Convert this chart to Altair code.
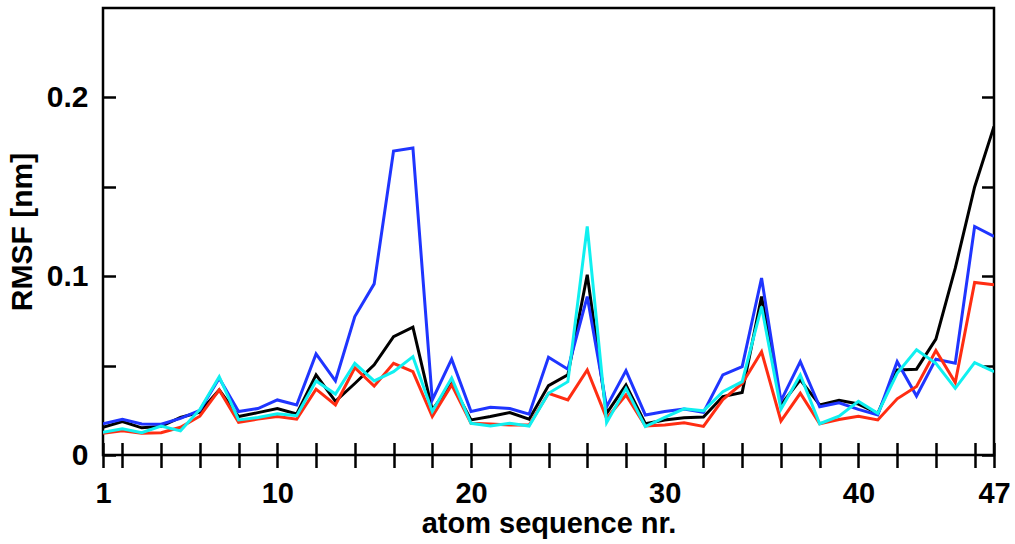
import altair as alt
import pandas as pd

atoms = list(range(1, 48))

black = [0.0155, 0.0187, 0.0152, 0.0160, 0.0210, 0.0240, 0.0364, 0.0215, 0.0237, 0.0260,
         0.0230, 0.0448, 0.0300, 0.0400, 0.0504, 0.0662, 0.0715, 0.0252, 0.0400, 0.0196,
         0.0215, 0.0237, 0.0200, 0.0388, 0.0448, 0.1008, 0.0233, 0.0392, 0.0175, 0.0196,
         0.0208, 0.0213, 0.0327, 0.0350, 0.0886, 0.0280, 0.0420, 0.0280, 0.0306, 0.0285,
         0.0233, 0.0476, 0.0480, 0.0648, 0.1045, 0.1499, 0.1838]
blue = [0.0175, 0.0200, 0.0173, 0.0172, 0.0205, 0.0250, 0.0429, 0.0243, 0.0260, 0.0308,
        0.0280, 0.0565, 0.0415, 0.0774, 0.0957, 0.1700, 0.1717, 0.0308, 0.0536, 0.0243,
        0.0267, 0.0260, 0.0228, 0.0547, 0.0480, 0.0886, 0.0270, 0.0472, 0.0224, 0.0243,
        0.0257, 0.0238, 0.0448, 0.0494, 0.0990, 0.0303, 0.0522, 0.0270, 0.0292, 0.0255,
        0.0224, 0.0522, 0.0330, 0.0536, 0.0513, 0.1278, 0.1222]
red = [0.0122, 0.0136, 0.0121, 0.0125, 0.0155, 0.0217, 0.0364, 0.0183, 0.0201, 0.0215,
       0.0200, 0.0368, 0.0280, 0.0488, 0.0385, 0.0513, 0.0466, 0.0215, 0.0392, 0.0177,
       0.0174, 0.0168, 0.0168, 0.0345, 0.0308, 0.0476, 0.0205, 0.0336, 0.0162, 0.0168,
       0.0180, 0.0160, 0.0310, 0.0400, 0.0578, 0.0190, 0.0345, 0.0175, 0.0198, 0.0216,
       0.0196, 0.0314, 0.0383, 0.0584, 0.0405, 0.0965, 0.0952]
cyan = [0.0127, 0.0146, 0.0125, 0.0162, 0.0135, 0.0255, 0.0438, 0.0196, 0.0210, 0.0230,
        0.0220, 0.0414, 0.0341, 0.0513, 0.0414, 0.0466, 0.0550, 0.0243, 0.0430, 0.0177,
        0.0162, 0.0177, 0.0162, 0.0345, 0.0410, 0.1278, 0.0181, 0.0373, 0.0159, 0.0210,
        0.0258, 0.0247, 0.0354, 0.0410, 0.0830, 0.0256, 0.0448, 0.0175, 0.0217, 0.0300,
        0.0233, 0.0457, 0.0588, 0.0513, 0.0373, 0.0517, 0.0466]

series_names = ["black", "blue", "red", "cyan"]
series_colors = ["#000000", "#1f35ff", "#ff2d12", "#10f0f0"]
series_values = [black, blue, red, cyan]

x_tick_values = [1] + list(range(2, 47, 2)) + [47]
x_label_values = ["1", "10", "20", "30", "40", "47"]
y_tick_values = [0, 0.05, 0.1, 0.15, 0.2]
y_label_values = ["0", "0.1", "0.2"]

rows = []
for name, vals in zip(series_names, series_values):
    for a, v in zip(atoms, vals):
        rows.append({"atom": a, "rmsf": v, "series": name})
df = pd.DataFrame(rows)

FONT = "Liberation Sans"

x_enc = alt.X(
    "atom:Q",
    scale=alt.Scale(domain=[1, 47], nice=False, zero=False),
    axis=alt.Axis(
        values=x_tick_values,
        format="d",
        labelExpr="indexof(%s, datum.label) >= 0 ? datum.label : ''" % str(x_label_values),
        offset=-12.5,
        tickSize=25,
        tickWidth=2.5,
        tickColor="black",
        domain=False,
        grid=False,
        labelPadding=12,
        labelFont=FONT,
        labelFontSize=29,
        labelFontWeight="bold",
        labelColor="black",
        labelFlush=False,
        labelOverlap=False,
        title="atom sequence nr.",
        titleFont=FONT,
        titleFontSize=29,
        titleFontWeight="bold",
        titleColor="black",
        titlePadding=1,
    ),
)

lines = alt.Chart(df).mark_line(strokeWidth=3, clip=True).encode(
    x=x_enc,
    y=alt.Y(
        "rmsf:Q",
        scale=alt.Scale(domain=[0, 0.25], nice=False),
        axis=alt.Axis(
            orient="left",
            values=y_tick_values,
            format=".2~f",
            labelExpr="indexof(%s, datum.label) >= 0 ? datum.label : ''" % str(y_label_values),
            offset=-12.5,
            tickSize=12.5,
            tickWidth=2.5,
            tickColor="black",
            domain=False,
            grid=False,
            labelPadding=15,
            labelFont=FONT,
            labelFontSize=30,
            labelFontWeight="bold",
            labelColor="black",
            labelOverlap=False,
            title="RMSF [nm]",
            titleFont=FONT,
            titleFontSize=30,
            titleFontWeight="bold",
            titleColor="black",
            titlePadding=9,
        ),
    ),
    color=alt.Color(
        "series:N",
        scale=alt.Scale(domain=series_names, range=series_colors),
        legend=None,
    ),
    detail="series:N",
)

right_ticks = alt.Chart(df).mark_point(opacity=0).encode(
    x=x_enc,
    y=alt.Y(
        "rmsf:Q",
        axis=alt.Axis(
            orient="right",
            values=y_tick_values,
            offset=-12.5,
            tickSize=12.5,
            tickWidth=2.5,
            tickColor="black",
            domain=False,
            grid=False,
            labels=False,
            title=None,
        ),
    ),
)

chart = (
    alt.layer(lines, right_ticks)
    .resolve_axis(y="independent")
    .properties(
        width=891,
        height=447,
        background="white",
        autosize=alt.AutoSizeParams(type="none"),
        padding={"left": 103, "top": 8, "right": 21, "bottom": 89},
    )
    .configure_view(stroke="black", strokeWidth=2.5)
)

chart.save("out.html", embed_options={"renderer": "svg", "actions": False})
